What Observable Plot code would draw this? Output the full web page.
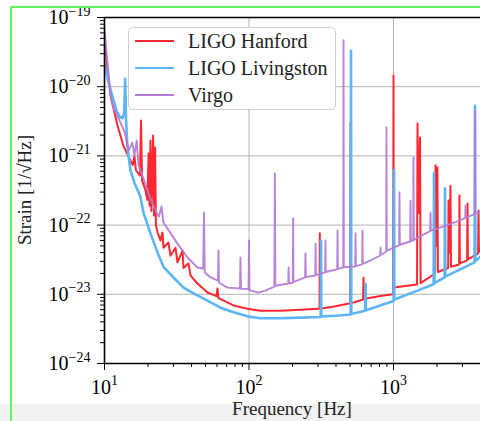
<!DOCTYPE html>
<html>
<head>
<meta charset="utf-8">
<script src="https://cdn.jsdelivr.net/npm/d3@7"></script>
<script src="https://cdn.jsdelivr.net/npm/@observablehq/plot@0.6"></script>
<style>
html, body { margin: 0; padding: 0; background: #fff; }
#wrap { position: relative; width: 480px; height: 421px; overflow: hidden; }
#band { position: absolute; left: 0; top: 404px; width: 480px; height: 17px; background: #f2f2f2; }
#chart { position: absolute; left: 0; top: 0; }
#gl { position: absolute; left: 10px; top: 6px; width: 2px; height: 415px; background: #63f25a; }
#gt { position: absolute; left: 10px; top: 6px; width: 470px; height: 2px; background: #63f25a; }
</style>
</head>
<body>
<div id="wrap">
  <div id="band"></div>
  <div id="chart"></div>
  <div id="gl"></div>
  <div id="gt"></div>
</div>
<script>
// ---- Data (frequency [Hz], strain [1/sqrt(Hz)]) ----
const hanford = [
 [10, 3.8e-20], [10.3, 2.4e-20], [11.0, 7.5e-21], [12.3, 2.75e-21], [13.5, 1.41e-21],
 [15.1, 8.6e-22], [15.7, 7.4e-22], [16.1, 1.0e-21], [16.5, 6.2e-22], [17.6, 5.2e-22],
 [17.9, 3.25e-21], [18.2, 4.4e-22], [19.2, 3.2e-22], [19.8, 2.3e-22], [20.2, 1.08e-21],
 [20.5, 1.9e-22], [20.8, 1.67e-21], [21.1, 1.6e-22], [21.7, 1.97e-21], [22.0, 1.38e-22],
 [22.4, 1.32e-21], [22.7, 9.9e-23], [23.3, 7.8e-23], [24.4, 6.0e-23], [25.2, 7.8e-23],
 [25.6, 4.7e-23], [27.7, 5.6e-23], [28.6, 3.6e-23], [31.0, 4.7e-23], [32.0, 2.9e-23],
 [34.7, 4.3e-23], [35.2, 2.4e-23], [38.1, 2.8e-23], [39.4, 1.87e-23], [44.0, 1.43e-23],
 [51.6, 1.06e-23], [59.5, 9.4e-24], [60.5, 1.21e-23], [61.5, 8.8e-24], [78.1, 6.9e-24],
 [97.6, 6.2e-24], [120, 5.8e-24], [165, 5.8e-24], [227, 6.0e-24], [300, 6.2e-24],
 [307.5, 6.2e-24], [309, 7.6e-23], [310.5, 6.2e-24], [397, 6.7e-24], [501, 7.4e-24],
 [504, 3.0e-21], [507, 7.4e-24], [616, 8.4e-24], [620, 1.75e-23], [624, 8.5e-24],
 [661, 8.8e-24], [853, 9.6e-24], [994, 1.0e-23], [1000, 1.45e-20], [1006, 1.25e-23],
 [1455, 1.39e-23], [1466, 2.94e-21], [1490, 1.5e-22], [1526, 1.85e-21], [1540, 1.45e-23],
 [1940, 2.0e-23], [1953, 7.3e-22], [1984, 5.0e-23], [2014, 6.8e-22], [2030, 2.1e-23],
 [2390, 2.4e-23], [2403, 2.26e-22], [2441, 4.0e-23], [2480, 3.7e-22], [2500, 2.5e-23],
 [2845, 2.7e-23], [2862, 2.7e-22], [2880, 2.8e-23], [3230, 3.1e-23], [3252, 2.05e-22],
 [3275, 3.2e-23], [3850, 3.9e-23], [3874, 1.62e-22], [3900, 4.1e-23], [4000, 4.4e-23]
];

const livingston = [
 [10, 2.2e-20], [10.5, 1.31e-20], [11.4, 7.0e-21], [12.1, 4.5e-21], [12.7, 3.7e-21],
 [13.3, 3.5e-21], [13.7, 4.2e-21], [13.9, 1.31e-20], [14.1, 3.25e-21], [14.4, 1.41e-21],
 [15.1, 6.2e-22], [16.1, 4.1e-22], [17.7, 2.6e-22], [18.6, 1.52e-22], [20.8, 7.6e-23],
 [23.3, 4.0e-23], [25.6, 2.5e-23], [30.0, 1.75e-23], [35.2, 1.25e-23], [41.3, 1.03e-23],
 [51.6, 8.1e-24], [63.5, 6.4e-24], [78.1, 5.5e-24], [97.6, 4.8e-24], [120, 4.5e-24],
 [165, 4.5e-24], [227, 4.6e-24], [313.5, 4.7e-24], [315, 6.0e-23], [316.5, 4.8e-24],
 [397, 4.9e-24], [505.5, 5.1e-24], [508, 3.3e-20], [510.5, 5.2e-24], [636, 5.8e-24],
 [640, 1.43e-23], [644, 5.9e-24], [693, 6.2e-24], [1002, 8.0e-24], [1008, 6.2e-22],
 [1014, 8.4e-24], [1466, 1.13e-23], [1895, 1.4e-23], [1907, 5.7e-22], [1920, 1.45e-23],
 [2258, 1.75e-23], [2272, 3.4e-22], [2286, 1.8e-23], [2774, 2.2e-23], [3640, 2.9e-23],
 [3664, 5.3e-21], [3688, 3.0e-23], [4000, 3.5e-23]
];

const virgo = [
 [10, 6.9e-20], [10.3, 3.3e-20], [10.7, 1.45e-20], [11.0, 7.5e-21], [11.5, 5.0e-21],
 [12.5, 3.5e-21], [13.8, 2.2e-21], [14.7, 1.2e-21], [15.6, 1.56e-21], [16.1, 1.0e-21],
 [16.7, 1.67e-21], [17.2, 7.3e-22], [18.6, 4.7e-22], [20.8, 2.4e-22], [23.3, 1.42e-22],
 [23.8, 1.33e-22], [24.8, 1.86e-22], [25.6, 1.09e-22], [27.3, 8.9e-23], [32.0, 5.4e-23],
 [37.5, 3.4e-23], [44.0, 2.44e-23], [48.2, 2.36e-23], [48.8, 1.52e-22], [49.4, 2.07e-23],
 [54.1, 1.75e-23], [61.0, 1.58e-23], [61.5, 4.3e-23], [62.0, 1.47e-23], [71.0, 1.25e-23],
 [86.6, 1.21e-23], [87.3, 3.4e-23], [88.0, 1.2e-23], [99.3, 1.19e-23], [100, 6.0e-23],
 [100.7, 1.15e-23], [116, 1.06e-23], [130, 1.13e-23], [149.8, 1.29e-23], [151, 5.6e-22],
 [152.2, 1.33e-23], [187, 1.43e-23], [188, 2.44e-23], [189, 1.44e-23], [201, 1.47e-23],
 [202, 1.25e-22], [203, 1.5e-23], [244.5, 1.75e-23], [246, 3.9e-23], [247.5, 1.77e-23],
 [287.5, 1.87e-23], [289, 5.4e-23], [290.5, 1.9e-23], [336.5, 2.07e-23], [338, 6.0e-23],
 [339.5, 2.1e-23], [408, 2.3e-23], [410, 8.4e-23], [412, 2.33e-23], [449, 2.44e-23],
 [451, 4.7e-20], [453, 2.46e-23], [543, 2.52e-23], [546, 7.6e-23], [549, 2.55e-23],
 [607, 2.7e-23], [610, 8.4e-23], [613, 2.75e-23], [693, 3.08e-23], [809, 3.64e-23],
 [813, 4.74e-23], [817, 3.7e-23], [890, 4.15e-23], [894, 2.6e-21], [898, 4.25e-23],
 [1000, 4.74e-23], [1094, 5.1e-23], [1100, 3.0e-22], [1106, 5.2e-23], [1304, 5.8e-23],
 [1311, 2.26e-22], [1318, 5.9e-23], [1368, 6.0e-23], [1375, 9.5e-22], [1382, 6.1e-23],
 [1466, 6.6e-23], [1793, 8.2e-23], [1803, 1.52e-22], [1813, 8.3e-23], [2014, 8.9e-23],
 [2774, 1.13e-22], [3134, 1.26e-22], [3151, 1.92e-22], [3168, 1.28e-22], [3645, 1.44e-22],
 [3664, 4.5e-21], [3683, 1.47e-22], [4000, 1.56e-22]
];

const detectorNames = ["LIGO Hanford", "LIGO Livingston", "Virgo"];
const xMajorTicks = [10, 100, 1000];
const yMajorTicks = [1e-24, 1e-23, 1e-22, 1e-21, 1e-20, 1e-19];
const xLabel = "Frequency [Hz]";
const yLabel = "Strain [1/\u221AHz]";

// ---- styles ----
const FONT = "'Liberation Serif', 'Times New Roman', serif";
const colors = ["#ff2832", "#5cb5f5", "#b47ad6"];
const widths = [2, 2.6, 1.9];
const opac = [1, 1, 0.92];

const seriesData = [hanford, livingston, virgo];
const rows = (name, pts) => pts.map(([f, s]) => ({detector: name, f, s}));

const xMinorTicks = [];
for (const d of [10, 100, 1000]) for (let k = 2; k <= 9; k++) if (k * d <= 4000) xMinorTicks.push(k * d);
const yMinorTicks = [];
for (let e = -24; e < -19; e++) for (let k = 2; k <= 9; k++) yMinorTicks.push(k * Math.pow(10, e));

const fmt = d => "10^" + Math.round(Math.log10(d));
const gridStyle = {stroke: "#b4b4b4", strokeOpacity: 1, strokeWidth: 1};

const chart = Plot.plot({
  width: 480, height: 421,
  marginLeft: 104, marginRight: 0, marginTop: 17, marginBottom: 58,
  style: {background: "transparent", fontFamily: FONT, fontSize: "20px", color: "black", overflow: "visible"},
  x: {type: "log", domain: [10, 4000]},
  y: {type: "log", domain: [1e-24, 1e-19]},
  marks: [
    Plot.gridX(xMajorTicks.slice(1), gridStyle),
    Plot.gridY(yMajorTicks.slice(1, -1), gridStyle),
    ...seriesData.map((pts, i) => Plot.line(rows(detectorNames[i], pts), {
      x: "f", y: "s", stroke: colors[i], strokeWidth: widths[i], strokeOpacity: opac[i], clip: true
    })),
    Plot.ruleY([1e-19, 1e-24], {stroke: "black", strokeWidth: 1.6}),
    Plot.ruleX([10], {stroke: "black", strokeWidth: 1.6}),
    Plot.axisY(yMinorTicks, {tickSize: 4, tickFormat: () => "", label: null}),
    Plot.axisY(yMajorTicks, {tickSize: 7, tickPadding: 7, tickFormat: fmt, label: null}),
    Plot.axisX(xMinorTicks, {tickSize: 4, tickFormat: () => "", label: null}),
    Plot.axisX(xMajorTicks, {tickSize: 7, tickPadding: 9, tickFormat: fmt, label: null})
  ]
});
document.getElementById("chart").appendChild(chart);

// superscript tick labels
const svg = d3.select(chart);
svg.selectAll("text").each(function() {
  const t = d3.select(this);
  const s = t.text();
  if (!s.includes("^")) return;
  const [b, e] = s.split("^");
  t.text(null);
  t.append("tspan").text(b);
  t.append("tspan").attr("dy", "-0.6em").attr("font-size", "14px").text(e.replace("-", "\u2212"));
});

// axis titles
const xs = chart.scale("x").range, ys = chart.scale("y").range;
svg.append("text")
  .attr("x", (xs[0] + xs[1]) / 2).attr("y", ys[0] + 52)
  .attr("text-anchor", "middle").attr("font-size", 19).attr("fill", "#222")
  .attr("font-family", FONT)
  .text(xLabel);
svg.append("text")
  .attr("transform", `translate(31,${(ys[0] + ys[1]) / 2}) rotate(-90)`)
  .attr("text-anchor", "middle").attr("font-size", 19).attr("fill", "#222")
  .attr("font-family", FONT)
  .text(yLabel);

// legend (upper left, inside the frame)
const L = {x: xs[0] + 24, y: ys[1] + 10, w: 207, h: 82, row: 27};
const lg = svg.append("g");
lg.append("rect").attr("x", L.x + 0.5).attr("y", L.y + 0.5).attr("width", L.w).attr("height", L.h)
  .attr("rx", 4).attr("fill", "white").attr("stroke", "#cfcfcf");
detectorNames.forEach((n, i) => {
  const cy = L.y + 14 + i * L.row;
  lg.append("line").attr("x1", L.x + 7).attr("x2", L.x + 46).attr("y1", cy).attr("y2", cy)
    .attr("stroke", colors[i]).attr("stroke-width", 2.2);
  lg.append("text").attr("x", L.x + 60).attr("y", cy + 6.5).attr("text-anchor", "start")
    .attr("font-family", FONT).attr("font-size", 20).attr("fill", "#222").text(n);
});
</script>
</body>
</html>
